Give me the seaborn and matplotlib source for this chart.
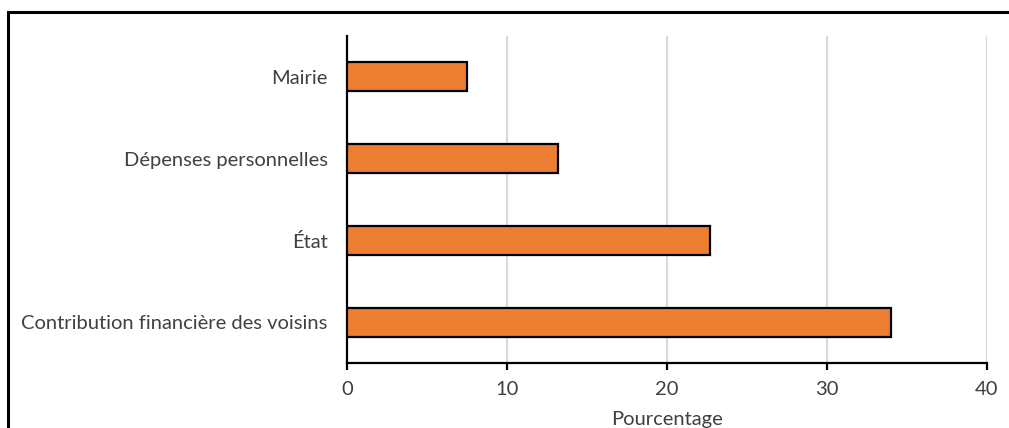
import matplotlib
matplotlib.use("Agg")
import matplotlib.pyplot as plt
import seaborn as sns
import pandas as pd
from matplotlib.patches import Rectangle

categories = ["Mairie", "Dépenses personnelles", "État",
              "Contribution financière des voisins"]
values = [7.5, 13.2, 22.7, 34.0]
x_ticks = [0, 10, 20, 30, 40]

sns.set_theme(style="white")
plt.rcParams["font.family"] = ["Lato", "DejaVu Sans"]

df = pd.DataFrame({"source": categories, "pct": values})

W, H = 1009, 428
fig = plt.figure(figsize=(W / 100, H / 100), dpi=100)
ax = fig.add_axes([347 / W, (H - 363) / H, (987 - 347) / W, (363 - 36) / H])

sns.barplot(data=df, y="source", x="pct", orient="h", ax=ax,
            color="#ED7D31", saturation=1, width=0.355,
            edgecolor="black", linewidth=1.6, zorder=3)

ax.set_xlim(0, 40)
ax.set_xticks(x_ticks)
ax.set_ylim(3.5, -0.5)
ax.xaxis.grid(True, color="#d9d9d9", linewidth=1.5, zorder=0)
ax.yaxis.grid(False)
ax.set_axisbelow(True)

for side in ("top", "right"):
    ax.spines[side].set_visible(False)
for side in ("left", "bottom"):
    ax.spines[side].set_color("black")
    ax.spines[side].set_linewidth(1.6)

ax.tick_params(axis="x", direction="out", length=5, width=1.6, color="black",
               bottom=True, labelsize=14.5, labelcolor="#404040", pad=8)
ax.tick_params(axis="y", length=0, labelsize=14.5, labelcolor="#404040", pad=14)

ax.set_ylabel("")
ax.set_xlabel("Pourcentage", fontsize=14.5, color="#404040", labelpad=9)

# outer chart frame
fig.patches.append(Rectangle((8 / W, -0.05), 1.1, (H - 12) / H + 0.05,
                             transform=fig.transFigure, fill=False,
                             edgecolor="black", linewidth=2.2))

fig.savefig("out.png", dpi=100, facecolor="white")
